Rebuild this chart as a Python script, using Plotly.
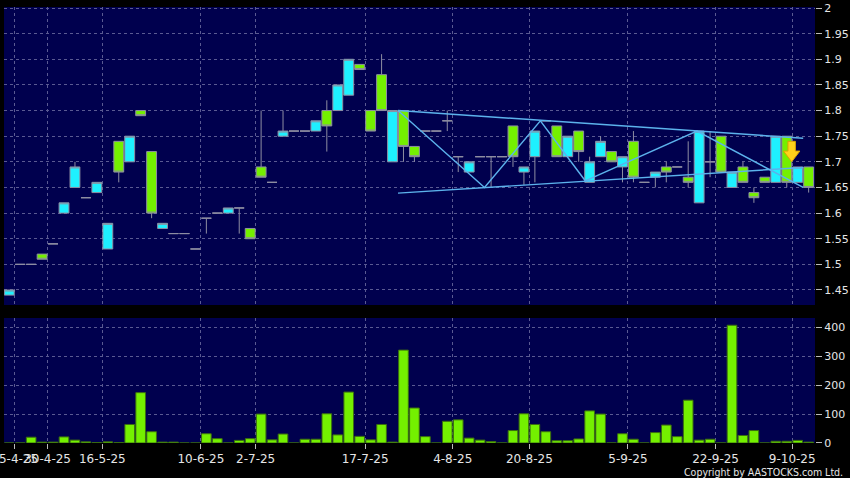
import plotly.graph_objects as go

# ---- data ----
opens = [1.44, 1.50, 1.50, 1.52, 1.54, 1.60, 1.65, 1.63, 1.64, 1.53,
         1.74, 1.70, 1.80, 1.72, 1.57, 1.56, 1.56, 1.53, 1.59, 1.60,
         1.60, 1.61, 1.57, 1.69, 1.66, 1.75, 1.76, 1.76, 1.76, 1.80,
         1.80, 1.83, 1.89, 1.80, 1.87, 1.70, 1.80, 1.73, 1.76, 1.76,
         1.78, 1.71, 1.68, 1.71, 1.71, 1.71, 1.77, 1.68, 1.71, 1.78,
         1.77, 1.71, 1.76, 1.66, 1.71, 1.72, 1.69, 1.74, 1.66, 1.67,
         1.69, 1.69, 1.67, 1.62, 1.70, 1.75, 1.65, 1.69, 1.64, 1.67,
         1.66, 1.75, 1.66, 1.69]
highs = [1.45, 1.50, 1.50, 1.52, 1.54, 1.62, 1.70, 1.63, 1.66, 1.58,
         1.74, 1.75, 1.80, 1.72, 1.58, 1.56, 1.56, 1.53, 1.59, 1.60,
         1.61, 1.61, 1.57, 1.80, 1.66, 1.80, 1.76, 1.76, 1.78, 1.82,
         1.85, 1.90, 1.89, 1.80, 1.91, 1.80, 1.80, 1.73, 1.76, 1.76,
         1.80, 1.71, 1.70, 1.71, 1.71, 1.71, 1.77, 1.69, 1.76, 1.78,
         1.77, 1.75, 1.76, 1.71, 1.75, 1.72, 1.71, 1.76, 1.66, 1.68,
         1.70, 1.69, 1.74, 1.76, 1.76, 1.75, 1.68, 1.70, 1.65, 1.67,
         1.75, 1.75, 1.69, 1.69]
lows = [1.44, 1.50, 1.50, 1.51, 1.54, 1.60, 1.65, 1.63, 1.64, 1.53,
        1.66, 1.70, 1.79, 1.59, 1.57, 1.56, 1.56, 1.53, 1.56, 1.60,
        1.60, 1.56, 1.55, 1.67, 1.66, 1.75, 1.76, 1.76, 1.76, 1.72,
        1.80, 1.83, 1.88, 1.76, 1.80, 1.70, 1.70, 1.70, 1.76, 1.76,
        1.76, 1.68, 1.68, 1.71, 1.65, 1.71, 1.69, 1.655, 1.66, 1.78,
        1.71, 1.71, 1.70, 1.66, 1.71, 1.70, 1.66, 1.66, 1.66, 1.65,
        1.66, 1.69, 1.65, 1.62, 1.67, 1.68, 1.65, 1.66, 1.62, 1.66,
        1.66, 1.65, 1.66, 1.64]
closes = [1.45, 1.50, 1.50, 1.51, 1.54, 1.62, 1.69, 1.63, 1.66, 1.58,
          1.68, 1.75, 1.79, 1.60, 1.58, 1.56, 1.56, 1.53, 1.59, 1.60,
          1.61, 1.61, 1.55, 1.67, 1.66, 1.76, 1.76, 1.76, 1.78, 1.77,
          1.85, 1.90, 1.88, 1.76, 1.80, 1.80, 1.73, 1.71, 1.76, 1.76,
          1.78, 1.71, 1.70, 1.71, 1.71, 1.71, 1.71, 1.69, 1.76, 1.78,
          1.71, 1.75, 1.72, 1.70, 1.74, 1.70, 1.71, 1.67, 1.66, 1.68,
          1.68, 1.69, 1.66, 1.76, 1.70, 1.68, 1.68, 1.66, 1.63, 1.66,
          1.75, 1.66, 1.69, 1.65]
volumes = [0, 0, 20, 3, 3, 21, 10, 4, 1, 4,
           1, 64, 174, 39, 3, 3, 0, 0, 32, 15,
           0, 9, 15, 100, 11, 31, 0, 13, 13, 101,
           28, 176, 23, 11, 64, 3, 321, 121, 22, 0,
           75, 80, 17, 10, 5, 0, 43, 101, 64, 39,
           8, 8, 14, 111, 100, 0, 32, 13, 0, 36,
           62, 22, 148, 10, 13, 0, 407, 26, 43, 0,
           6, 6, 9, 3]
sessions = list(range(len(closes)))

# date tick labels (placed between sessions)
date_tick_pos = [0.5, 3.5, 8.5, 17.5, 22.5, 32.5, 40.5, 47.5, 56.5, 64.5, 71.5]
date_tick_labels = ["25-4-25", "30-4-25", "16-5-25", "10-6-25", "2-7-25", "17-7-25",
                    "4-8-25", "20-8-25", "5-9-25", "22-9-25", "9-10-25"]
price_ticks = [1.45, 1.5, 1.55, 1.6, 1.65, 1.7, 1.75, 1.8, 1.85, 1.9, 1.95, 2.0]
price_tick_labels = ["1.45", "1.5", "1.55", "1.6", "1.65", "1.7", "1.75", "1.8",
                     "1.85", "1.9", "1.95", "2"]
volume_ticks = [0, 100, 200, 300, 400]

# pattern lines (session position, price)
upper_line_x = [35.5, 72.5]
upper_line_y = [1.800, 1.746]
lower_line_x = [35.5, 72.5]
lower_line_y = [1.639, 1.689]
zigzag_x = [35.5, 43.4, 48.5, 52.6, 62.8, 72.5]
zigzag_y = [1.80, 1.65, 1.78, 1.663, 1.76, 1.65]
signal_x = 71.45
signal_price = 1.70

# ---- styling ----
BG = "#000000"
PLOT_BG = "#00004e"
GRID = "#5a5a92"
WICK = "#8e8ea2"
UP_FILL = "#1ef0ff"
DOWN_FILL = "#74f000"
VOL_FILL = "#74f000"
LINE_BLUE = "#5cb2ec"
TXT = "#e6e6e6"

fig = go.Figure()

fig.add_trace(go.Candlestick(
    x=sessions, open=opens, high=highs, low=lows, close=closes,
    increasing=dict(fillcolor=UP_FILL, line=dict(color=WICK, width=1)),
    decreasing=dict(fillcolor=DOWN_FILL, line=dict(color=WICK, width=1)),
    whiskerwidth=0, xaxis="x", yaxis="y", hoverinfo="skip", showlegend=False,
))

for lx, ly in [(upper_line_x, upper_line_y), (lower_line_x, lower_line_y), (zigzag_x, zigzag_y)]:
    fig.add_trace(go.Scatter(x=lx, y=ly, mode="lines",
                             line=dict(color=LINE_BLUE, width=1.4),
                             xaxis="x", yaxis="y", hoverinfo="skip", showlegend=False))

fig.add_trace(go.Bar(
    x=sessions, y=volumes, width=0.88,
    marker=dict(color=VOL_FILL, line=dict(color="#3c6e10", width=1)),
    xaxis="x2", yaxis="y2", hoverinfo="skip", showlegend=False,
))

# signal arrow (drawn in data coordinates)
sw, hw = 0.34, 0.75
top, head = signal_price + 0.04, signal_price + 0.021
path = (f"M {signal_x - sw},{top} L {signal_x + sw},{top} L {signal_x + sw},{head} "
        f"L {signal_x + hw},{head} L {signal_x},{signal_price} L {signal_x - hw},{head} "
        f"L {signal_x - sw},{head} Z")
fig.add_shape(type="path", path=path, xref="x", yref="y",
              fillcolor="#ffd21a", line=dict(color="#d9a200", width=1))

xr = [-0.48, 73.58]
common_x = dict(range=xr, showgrid=True, gridcolor=GRID, griddash="3px,3px", gridwidth=1,
                tickvals=date_tick_pos, zeroline=False, showline=False, fixedrange=True,
                automargin=False, tickangle=0)

fig.update_layout(
    width=850, height=478,
    paper_bgcolor=BG, plot_bgcolor=PLOT_BG,
    margin=dict(l=4, r=35, t=7, b=35),
    boxgap=0.1, boxgroupgap=0.0,
    bargap=0.12,
    font=dict(family="DejaVu Sans", color=TXT, size=11),
    xaxis=dict(**common_x, domain=[0, 1], anchor="y", showticklabels=False,
               rangeslider=dict(visible=False), ticks=""),
    xaxis2=dict(**common_x, domain=[0, 1], anchor="y2", ticktext=date_tick_labels,
                showticklabels=True, ticks="outside", ticklen=5, tickcolor="#bbbbbb",
                ticklabeloverflow="allow",
                tickfont=dict(size=12, color=TXT)),
    yaxis=dict(domain=[0.3165, 1], range=[1.4207, 2.002], side="right",
               tickvals=price_ticks, ticktext=price_tick_labels, automargin=False,
               showgrid=True, gridcolor=GRID, griddash="3px,3px", gridwidth=1,
               ticks="outside", ticklen=6, tickcolor="#bbbbbb", zeroline=False,
               tickfont=dict(size=11, color=TXT), fixedrange=True),
    yaxis2=dict(domain=[0, 0.2867], range=[0, 432], side="right",
                tickvals=volume_ticks, automargin=False,
                showgrid=True, gridcolor=GRID, griddash="3px,3px", gridwidth=1,
                ticks="outside", ticklen=6, tickcolor="#bbbbbb", zeroline=False,
                tickfont=dict(size=11, color=TXT), fixedrange=True),
    annotations=[dict(text="Copyright by AASTOCKS.com Ltd.", xref="paper", yref="paper",
                      x=1.037, y=-0.066, xanchor="right", yanchor="middle", showarrow=False,
                      font=dict(family="DejaVu Sans Condensed", size=10.5, color=TXT))],
)

fig.write_html("out.html",
               config={"displayModeBar": False},
               post_script="document.body.style.margin='0';document.body.style.background='#000';"
                           "document.body.style.overflow='hidden';")
